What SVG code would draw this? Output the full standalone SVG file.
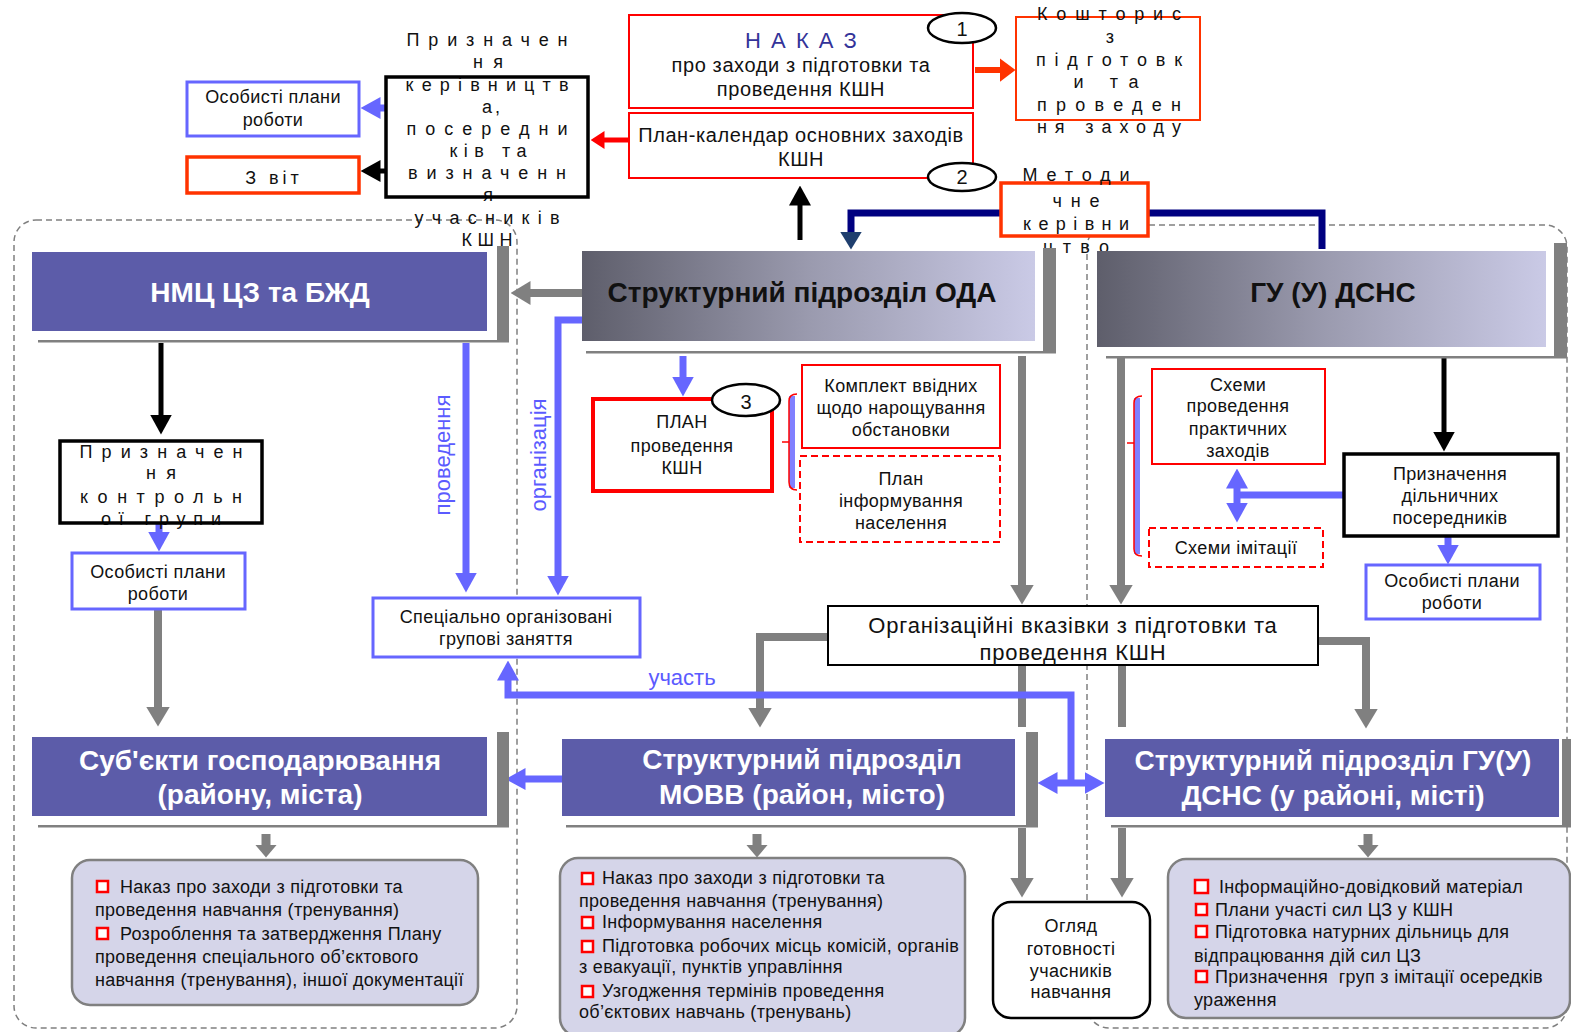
<svg xmlns="http://www.w3.org/2000/svg" width="1571" height="1032" viewBox="0 0 1571 1032">
<style>
text{font-family:"Liberation Sans",Arial,Helvetica,sans-serif;fill:#111;}
.c{text-anchor:middle}
.s16{font-size:18px;letter-spacing:0.4px}
.s19{font-size:20px;letter-spacing:0.6px}
.s21{font-size:22px;letter-spacing:0.8px}
.num{font-size:20px}
.sp{font-size:18px;text-anchor:middle}
.hw{font-size:28px;font-weight:bold;fill:#fff;text-anchor:middle}
.hb{font-size:28px;font-weight:bold;fill:#111;text-anchor:middle}
.bt{font-size:18px;letter-spacing:0.3px}
.lab{font-size:22px;fill:#5b5bff}
.bx-blue{fill:#fff;stroke:#6666ff;stroke-width:3}
.bx-red{fill:#fff;stroke:#ff0000;stroke-width:2}
.bx-or{fill:#fff;stroke:#ff3300;stroke-width:3.5}
.bx-blk{fill:none;stroke:#000;stroke-width:3.5}
.bx-dash{fill:#fff;stroke:#ff0000;stroke-width:2;stroke-dasharray:7 4}
.purple{fill:#5c5ca9}
.grad{fill:url(#gr)}
.shd{fill:#808080}
.bul{fill:#d5d5e9;stroke:#808080;stroke-width:2.5}
.bq{fill:#fff;stroke:#ff0000;stroke-width:2.5}
.ell{fill:#fff;stroke:#000;stroke-width:2.5}
.cont{fill:none;stroke:#808080;stroke-width:1.5;stroke-dasharray:6 4}
.cg{fill:none;stroke:#808080;stroke-width:8}
.cgs{fill:none;stroke:#808080;stroke-width:9}
.cb{fill:none;stroke:#6666ff;stroke-width:7}
.ck{fill:none;stroke:#000;stroke-width:5}
.cr{fill:none;stroke:#ff0000;stroke-width:5}
.co{fill:none;stroke:#ff3300;stroke-width:6}
.cn{fill:none;stroke:#000080;stroke-width:7}
</style>
<defs>
<linearGradient id="gr" x1="0" y1="0" x2="1" y2="0">
<stop offset="0" stop-color="#5e5e6b"/>
<stop offset="0.5" stop-color="#9a9aae"/>
<stop offset="1" stop-color="#cacae6"/>
</linearGradient>
<marker id="mg" viewBox="0 0 20 24" refX="0.5" refY="12" markerWidth="20" markerHeight="24" markerUnits="userSpaceOnUse" orient="auto-start-reverse"><path d="M0,0 L20,12 L0,24 z" fill="#808080"/></marker>
<marker id="mgs" viewBox="0 0 13 22" refX="0.5" refY="11" markerWidth="13" markerHeight="22" markerUnits="userSpaceOnUse" orient="auto"><path d="M0,0 L13,11 L0,22 z" fill="#808080"/></marker>
<marker id="mb" viewBox="0 0 20 22" refX="0.5" refY="11" markerWidth="20" markerHeight="22" markerUnits="userSpaceOnUse" orient="auto-start-reverse"><path d="M0,0 L20,11 L0,22 z" fill="#6666ff"/></marker>
<marker id="mk" viewBox="0 0 20 22" refX="0.5" refY="11" markerWidth="20" markerHeight="22" markerUnits="userSpaceOnUse" orient="auto"><path d="M0,0 L20,11 L0,22 z" fill="#000"/></marker>
<marker id="mr" viewBox="0 0 14 18" refX="0.5" refY="9" markerWidth="14" markerHeight="18" markerUnits="userSpaceOnUse" orient="auto"><path d="M0,0 L14,9 L0,18 z" fill="#ff0000"/></marker>
<marker id="mo" viewBox="0 0 16 24" refX="0.5" refY="12" markerWidth="16" markerHeight="24" markerUnits="userSpaceOnUse" orient="auto"><path d="M0,0 L16,12 L0,24 z" fill="#ff3300"/></marker>
<marker id="mn" viewBox="0 0 18 22" refX="0.5" refY="11" markerWidth="18" markerHeight="22" markerUnits="userSpaceOnUse" orient="auto"><path d="M0,0 L18,11 L0,22 z" fill="#1f3f6e"/></marker>
</defs>
<rect width="1571" height="1032" fill="#fff"/>

<g id="containers">
<rect class="cont" x="14" y="220" width="503" height="808" rx="22"/>
<rect class="cont" x="1087" y="225" width="480" height="803" rx="22"/>
</g>

<g id="connectors">
<path class="cb" d="M387,108 H380" marker-end="url(#mb)"/>
<path class="ck" d="M387,171 H380" marker-end="url(#mk)"/>
<path class="cr" d="M629,140 H604" marker-end="url(#mr)"/>
<path class="co" d="M975,70 H1000" marker-end="url(#mo)"/>
<path class="ck" d="M800,240 V205" marker-end="url(#mk)"/>
<path class="cn" d="M1003,213 H851 V232" marker-end="url(#mn)"/>
<path class="cn" d="M1149,213 H1322 V249"/>
<path class="cg" d="M582,293 H530" marker-end="url(#mg)"/>
<path class="cb" d="M582,320 H558 V576" marker-end="url(#mb)"/>
<path class="cb" d="M466,343 V573" marker-end="url(#mb)"/>
<path class="ck" d="M161,343 V415" marker-end="url(#mk)"/>
<path class="cb" d="M159,523 V532" marker-end="url(#mb)"/>
<path class="cg" d="M158,609 V707" marker-end="url(#mg)"/>
<path class="cb" d="M683,356 V377" marker-end="url(#mb)"/>
<path class="cg" d="M1022,356 V585" marker-end="url(#mg)"/>
<path class="cg" d="M1121,358 V585" marker-end="url(#mg)"/>
<path class="ck" d="M1444,358 V432" marker-end="url(#mk)"/>
<path class="cb" d="M1345,495 H1237"/>
<path class="cb" d="M1237,488 V503" marker-start="url(#mb)" marker-end="url(#mb)"/>
<path class="cb" d="M1448,536 V545" marker-end="url(#mb)"/>
<path class="cg" d="M829,637 H760 V708" marker-end="url(#mg)"/>
<path class="cg" d="M1318,641 H1366 V709" marker-end="url(#mg)"/>
<path class="cg" d="M1022,665 V727"/>
<path class="cg" d="M1022,828 V878" marker-end="url(#mg)"/>
<path class="cg" d="M1122,665 V727"/>
<path class="cg" d="M1122,828 V878" marker-end="url(#mg)"/>
<path class="cb" d="M1071,783 V695 H508 V680" marker-end="url(#mb)"/>
<path class="cb" d="M1057,783 H1085" marker-start="url(#mb)" marker-end="url(#mb)"/>
<path class="cb" d="M562,779 H525" marker-end="url(#mb)"/>
<path class="cgs" d="M266,834 V845" marker-end="url(#mgs)"/>
<path class="cgs" d="M757,834 V845" marker-end="url(#mgs)"/>
<path class="cgs" d="M1368,834 V845" marker-end="url(#mgs)"/>
<text class="lab c" transform="translate(450,455) rotate(-90)">проведення</text>
<text class="lab c" transform="translate(546,455) rotate(-90)">організація</text>
<text class="lab c" x="682" y="685">участь</text>
<g id="bracket-plan">
<rect x="789" y="396" width="6" height="92" fill="#8080ff"/>
<path d="M797,394 Q789,394 789,401 V482 Q789,490 797,490 M789,442 H782" fill="none" stroke="#ff0000" stroke-width="1.5"/>
</g>
<g id="bracket-skhemy">
<rect x="1134" y="398" width="6" height="156" fill="#8080ff"/>
<path d="M1142,396 Q1134,396 1134,403 V549 Q1134,556 1142,556 M1134,443 H1127" fill="none" stroke="#ff0000" stroke-width="1.5"/>
</g>
</g>

<g id="n-osob-top">
<rect class="bx-blue" x="187" y="82" width="172" height="54"/>
<text class="s16 c" x="273" y="103">Особисті плани</text>
<text class="s16 c" x="273" y="126">роботи</text>
</g>

<g id="n-zvit">
<rect class="bx-or" x="187" y="157" width="172" height="36"/>
<text class="c" x="274" y="184" style="font-size:18px;letter-spacing:4px">З віт</text>
</g>

<g id="n-kerivn">
<rect x="386" y="77" width="202" height="120" fill="#fff"/>
<text class="sp" x="487" y="46" textLength="161" lengthAdjust="spacing">Призначен</text>
<text class="sp" x="488" y="68" textLength="30" lengthAdjust="spacing">ня</text>
<text class="sp" x="487" y="91" textLength="163" lengthAdjust="spacing">керівництв</text>
<text class="sp" x="491" y="113" textLength="18" lengthAdjust="spacing">а,</text>
<text class="sp" x="487" y="135" textLength="161" lengthAdjust="spacing">посередни</text>
<text class="sp" x="488" y="157" textLength="77" lengthAdjust="spacing">ків та</text>
<text class="sp" x="487" y="179" textLength="158" lengthAdjust="spacing">визначенн</text>
<text class="sp" x="488" y="201">я</text>
<text class="sp" x="487" y="224" textLength="145" lengthAdjust="spacing">учасників</text>
<text class="sp" x="487" y="246" textLength="51" lengthAdjust="spacing">КШН</text>
<rect class="bx-blk" x="386" y="77" width="202" height="120"/>
</g>

<g id="n-nakaz">
<rect class="bx-red" x="629" y="15" width="344" height="93"/>
<text class="c" x="802" y="48" style="font-size:22px;letter-spacing:2px;fill:#333399">Н А К А З</text>
<text class="s19 c" x="801" y="72">про заходи з підготовки та</text>
<text class="s19 c" x="801" y="96">проведення КШН</text>
<ellipse class="ell" cx="962" cy="28" rx="34" ry="15"/>
<text class="num c" x="962" y="36">1</text>
</g>

<g id="n-plan-kalendar">
<rect class="bx-red" x="629" y="113" width="344" height="65"/>
<text class="s19 c" x="801" y="142">План-календар основних заходів</text>
<text class="s19 c" x="801" y="166">КШН</text>
<ellipse class="ell" cx="962" cy="177" rx="34" ry="14"/>
<text class="num c" x="962" y="184">2</text>
</g>

<g id="n-koshtorys">
<rect class="bx-red" x="1016" y="17" width="184" height="103" style="stroke:#ff3300"/>
<text class="sp" x="1109" y="20" textLength="144" lengthAdjust="spacing">Кошторис</text>
<text class="sp" x="1110" y="43">з</text>
<text class="sp" x="1109" y="66" textLength="146" lengthAdjust="spacing">підготовк</text>
<text class="sp" x="1106" y="88" textLength="65" lengthAdjust="spacing">и та</text>
<text class="sp" x="1109" y="111" textLength="144" lengthAdjust="spacing">проведен</text>
<text class="sp" x="1109" y="133" textLength="144" lengthAdjust="spacing">ня заходу</text>
</g>

<g id="n-metod">
<rect class="bx-or" x="1001" y="183" width="147" height="53"/>
<text class="sp" x="1076" y="181" textLength="107" lengthAdjust="spacing">Методи</text>
<text class="sp" x="1076" y="207" textLength="47" lengthAdjust="spacing">чне</text>
<text class="sp" x="1076" y="230" textLength="106" lengthAdjust="spacing">керівни</text>
<text class="sp" x="1076" y="253" textLength="66" lengthAdjust="spacing">цтво</text>
</g>

<g id="n-nmc">
<rect class="shd" x="497" y="246" width="12" height="96"/>
<rect class="shd" x="38" y="340" width="471" height="2.5"/>
<rect class="purple" x="32" y="252" width="455" height="79"/>
<text class="hw" x="260" y="302">НМЦ ЦЗ та БЖД</text>
</g>

<g id="n-oda">
<rect class="shd" x="1043" y="248" width="13" height="105"/>
<rect class="shd" x="586" y="351" width="470" height="2.5"/>
<rect class="grad" x="582" y="251" width="453" height="90"/>
<text class="hb" x="802" y="302">Структурний підрозділ ОДА</text>
</g>

<g id="n-gu">
<rect class="shd" x="1554" y="243" width="13" height="115"/>
<rect class="shd" x="1106" y="356" width="461" height="2.5"/>
<rect class="grad" x="1097" y="251" width="449" height="96"/>
<text class="hb" x="1333" y="302">ГУ (У) ДСНС</text>
</g>

<g id="n-kontrol">
<rect x="60" y="441" width="202" height="82" fill="#fff"/>
<text class="sp" x="161" y="458" textLength="163" lengthAdjust="spacing">Призначен</text>
<text class="sp" x="161" y="479" textLength="30" lengthAdjust="spacing">ня</text>
<text class="sp" x="161" y="503" textLength="162" lengthAdjust="spacing">контрольн</text>
<text class="sp" x="161" y="525" textLength="120" lengthAdjust="spacing">ої групи</text>
<rect class="bx-blk" x="60" y="441" width="202" height="82"/>
</g>

<g id="n-osob-left">
<rect class="bx-blue" x="72" y="553" width="173" height="56"/>
<text class="s16 c" x="158" y="578">Особисті плани</text>
<text class="s16 c" x="158" y="600">роботи</text>
</g>

<g id="n-spec">
<rect class="bx-blue" x="373" y="598" width="267" height="59"/>
<text class="s16 c" x="506" y="623">Спеціально організовані</text>
<text class="s16 c" x="506" y="645">групові заняття</text>
</g>

<g id="n-plan">
<rect class="bx-red" x="593" y="399" width="179" height="92" style="stroke-width:4"/>
<text class="s16 c" x="682" y="428">ПЛАН</text>
<text class="s16 c" x="682" y="452">проведення</text>
<text class="s16 c" x="682" y="474">КШН</text>
<ellipse class="ell" cx="746" cy="400" rx="34" ry="16"/>
<text class="num c" x="746" y="409">3</text>
</g>

<g id="n-komplekt">
<rect class="bx-red" x="802" y="365" width="198" height="83"/>
<text class="s16 c" x="901" y="392">Комплект ввідних</text>
<text class="s16 c" x="901" y="414">щодо нарощування</text>
<text class="s16 c" x="901" y="436">обстановки</text>
</g>

<g id="n-plan-inform">
<rect class="bx-dash" x="800" y="456" width="200" height="86"/>
<text class="s16 c" x="901" y="485">План</text>
<text class="s16 c" x="901" y="507">інформування</text>
<text class="s16 c" x="901" y="529">населення</text>
</g>

<g id="n-org">
<rect x="828" y="606" width="490" height="59" fill="#fff" stroke="#000" stroke-width="2"/>
<text class="s21 c" x="1073" y="633">Організаційні вказівки з підготовки та</text>
<text class="s21 c" x="1073" y="660">проведення КШН</text>
</g>

<g id="n-skhemy">
<rect class="bx-red" x="1152" y="369" width="173" height="95"/>
<text class="s16 c" x="1238" y="391">Схеми</text>
<text class="s16 c" x="1238" y="412">проведення</text>
<text class="s16 c" x="1238" y="435">практичних</text>
<text class="s16 c" x="1238" y="457">заходів</text>
</g>

<g id="n-skhemy-imit">
<rect class="bx-dash" x="1149" y="528" width="174" height="39"/>
<text class="s16 c" x="1236" y="554">Схеми імітації</text>
</g>

<g id="n-dilnych">
<rect x="1344" y="454" width="214" height="82" fill="#fff" stroke="#000" stroke-width="3.5"/>
<text class="s16 c" x="1450" y="480">Призначення</text>
<text class="s16 c" x="1450" y="502">дільничних</text>
<text class="s16 c" x="1450" y="524">посередників</text>
</g>

<g id="n-osob-right">
<rect class="bx-blue" x="1366" y="565" width="174" height="54"/>
<text class="s16 c" x="1452" y="587">Особисті плани</text>
<text class="s16 c" x="1452" y="609">роботи</text>
</g>

<g id="n-subj">
<rect class="shd" x="497" y="732" width="12" height="95"/>
<rect class="shd" x="38" y="825" width="471" height="2.5"/>
<rect class="purple" x="32" y="737" width="455" height="79"/>
<text class="hw" x="260" y="770">Суб'єкти господарювання</text>
<text class="hw" x="260" y="804">(району, міста)</text>
</g>

<g id="n-movv">
<rect class="shd" x="1026" y="732" width="12" height="95"/>
<rect class="shd" x="566" y="825" width="472" height="2.5"/>
<rect class="purple" x="562" y="739" width="453" height="77"/>
<text class="hw" x="802" y="769">Структурний підрозділ</text>
<text class="hw" x="802" y="804">МОВВ (район, місто)</text>
</g>

<g id="n-gu-dsns">
<rect class="shd" x="1562" y="739" width="9" height="88"/>
<rect class="shd" x="1111" y="825" width="460" height="2.5"/>
<rect class="purple" x="1105" y="739" width="454" height="78"/>
<text class="hw" x="1333" y="770">Структурний підрозділ ГУ(У)</text>
<text class="hw" x="1333" y="805">ДСНС (у районі, місті)</text>
</g>

<g id="n-ogliad">
<rect x="993" y="902" width="157" height="116" rx="18" fill="#fff" stroke="#000" stroke-width="2.5"/>
<text class="s16 c" x="1071" y="932">Огляд</text>
<text class="s16 c" x="1071" y="955">готовності</text>
<text class="s16 c" x="1071" y="977">учасників</text>
<text class="s16 c" x="1071" y="998">навчання</text>
</g>

<g id="n-bul-left">
<rect class="bul" x="72" y="860" width="406" height="145" rx="18"/>
<rect class="bq" x="97" y="881" width="11" height="11"/>
<rect class="bq" x="97" y="928" width="11" height="11"/>
<text class="bt" x="120" y="893">Наказ про заходи з підготовки та</text>
<text class="bt" x="95" y="916">проведення навчання (тренування)</text>
<text class="bt" x="120" y="940">Розроблення та затвердження Плану</text>
<text class="bt" x="95" y="963">проведення спеціального об’єктового</text>
<text class="bt" x="95" y="986">навчання (тренування), іншої документації</text>
</g>

<g id="n-bul-mid">
<rect class="bul" x="560" y="858" width="405" height="178" rx="18"/>
<rect class="bq" x="582" y="873" width="11" height="11"/>
<rect class="bq" x="582" y="917" width="11" height="11"/>
<rect class="bq" x="582" y="941" width="11" height="11"/>
<rect class="bq" x="582" y="986" width="11" height="11"/>
<text class="bt" x="602" y="884">Наказ про заходи з підготовки та</text>
<text class="bt" x="579" y="907">проведення навчання (тренування)</text>
<text class="bt" x="602" y="928">Інформування населення</text>
<text class="bt" x="602" y="952">Підготовка робочих місць комісій, органів</text>
<text class="bt" x="579" y="973">з евакуації, пунктів управління</text>
<text class="bt" x="602" y="997">Узгодження термінів проведення</text>
<text class="bt" x="579" y="1018">об’єктових навчань (тренувань)</text>
</g>

<g id="n-bul-right">
<rect class="bul" x="1168" y="859" width="402" height="159" rx="18"/>
<rect class="bq" x="1195" y="880" width="13" height="13"/>
<rect class="bq" x="1196" y="904" width="11" height="11"/>
<rect class="bq" x="1196" y="926" width="11" height="11"/>
<rect class="bq" x="1196" y="971" width="11" height="11"/>
<text class="bt" x="1219" y="893">Інформаційно-довідковий матеріал</text>
<text class="bt" x="1215" y="916">Плани участі сил ЦЗ у КШН</text>
<text class="bt" x="1215" y="938">Підготовка натурних дільниць для</text>
<text class="bt" x="1194" y="962">відпрацювання дій сил ЦЗ</text>
<text class="bt" x="1215" y="983" xml:space="preserve" style="white-space:pre">Призначення  груп з імітації осередків</text>
<text class="bt" x="1194" y="1006">ураження</text>
</g>
</svg>
